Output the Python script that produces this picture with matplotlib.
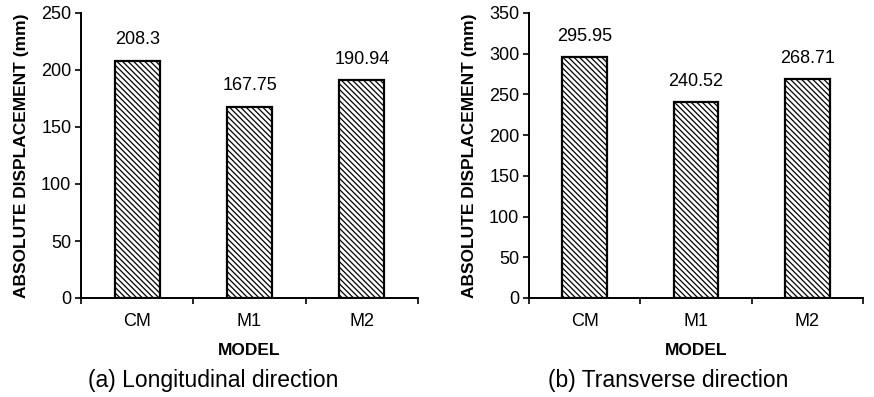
import matplotlib
matplotlib.use("Agg")
import matplotlib.pyplot as plt
import numpy as np

plt.rcParams['font.family'] = ['Liberation Sans', 'DejaVu Sans']
plt.rcParams['hatch.linewidth'] = 0.9

models = ["CM", "M1", "M2"]
longitudinal = [208.3, 167.75, 190.94]
transverse = [295.95, 240.52, 268.71]
long_labels = ["208.3", "167.75", "190.94"]
trans_labels = ["295.95", "240.52", "268.71"]

W, H = 874, 397
fig = plt.figure(figsize=(W / 100, H / 100), dpi=100)


def px_axes(x0, x1, ytop, ybot):
    return fig.add_axes([x0 / W, (H - ybot) / H, (x1 - x0) / W, (ybot - ytop) / H])


def draw(ax, values, labels, ymax, caption, cap_x):
    x = np.arange(len(models))
    ax.bar(x, values, width=0.4, color="white", edgecolor="black",
           linewidth=1.6, hatch="\\" * 6, zorder=2)
    for xi, v, lab in zip(x, values, labels):
        ax.annotate(lab, (xi, v), xytext=(0, 9), textcoords="offset points",
                    ha="center", va="bottom", fontsize=13)
    ax.set_xlim(-0.5, len(models) - 0.5)
    ax.set_ylim(0, ymax)
    ax.set_yticks(np.arange(0, ymax + 1, 50))
    ax.set_xticks(x)
    ax.set_xticklabels(models, fontsize=13)
    ax.set_xticks(np.arange(-0.5, len(models), 1.0), minor=True)
    ax.tick_params(axis="x", which="major", length=0, pad=11)
    ax.tick_params(axis="x", which="minor", length=4, width=1.2, direction="out")
    ax.tick_params(axis="y", length=4, width=1.2, direction="out", labelsize=13, pad=3)
    for s in ("top", "right"):
        ax.spines[s].set_visible(False)
    for s in ("left", "bottom"):
        ax.spines[s].set_linewidth(1.4)
    ax.set_ylabel("ABSOLUTE DISPLACEMENT (mm)", fontsize=12.5, fontweight="bold", labelpad=9)
    ax.set_xlabel("MODEL", fontsize=12.5, fontweight="bold", labelpad=9)
    fig.text(cap_x / W, 1 - 381 / H, caption, ha="center", va="center", fontsize=16.5)


ax1 = px_axes(81, 418, 13, 298)
draw(ax1, longitudinal, long_labels, 250, "(a) Longitudinal direction", 213)
ax2 = px_axes(529, 863, 13, 298)
draw(ax2, transverse, trans_labels, 350, "(b) Transverse direction", 668)

fig.savefig("out.png", dpi=100)
